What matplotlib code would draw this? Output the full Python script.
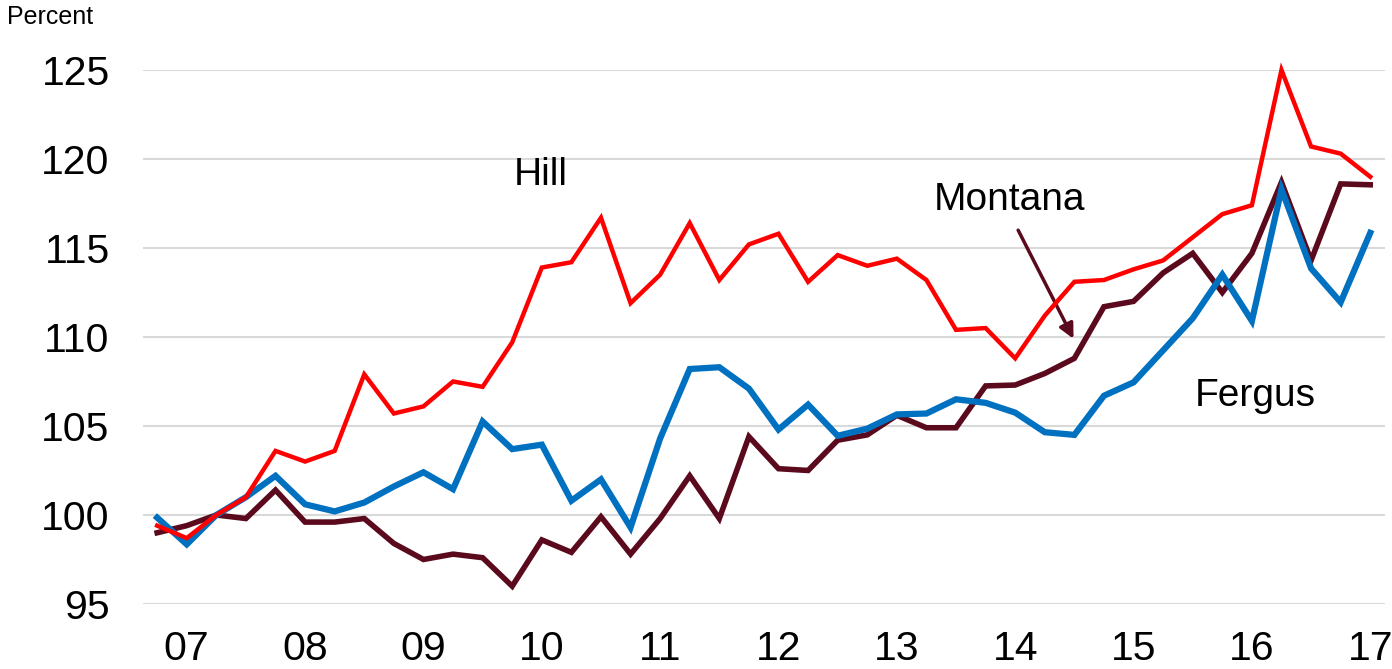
import matplotlib
matplotlib.use("Agg")
import matplotlib.pyplot as plt
import numpy as np

plt.rcParams['font.family'] = ['Liberation Sans', 'DejaVu Sans']

year_labels = ["07", "08", "09", "10", "11", "12", "13", "14", "15", "16", "17"]

hill = [99.4, 98.7, 100.0, 101.0, 103.6, 103.0, 103.6, 107.9, 105.7, 106.1, 107.5, 107.2,
        109.7, 113.9, 114.2, 116.7, 111.9, 113.5, 116.4, 113.2, 115.2, 115.8, 113.1, 114.6,
        114.0, 114.4, 113.2, 110.4, 110.5, 108.8, 111.2, 113.1, 113.2, 113.8, 114.3, 115.6,
        116.9, 117.4, 125.0, 120.7, 120.3, 119.0]

montana = [99.0, 99.4, 100.0, 99.8, 101.4, 99.6, 99.6, 99.8, 98.4, 97.5, 97.8, 97.6,
           96.0, 98.6, 97.9, 99.9, 97.8, 99.8, 102.2, 99.8, 104.4, 102.6, 102.5, 104.2,
           104.5, 105.6, 104.9, 104.9, 107.25, 107.3, 107.95, 108.8, 111.7, 112.0, 113.6, 114.7,
           112.5, 114.7, 118.7, 114.3, 118.6, 118.55]

fergus = [99.85, 98.35, 100.0, 101.0, 102.2, 100.6, 100.2, 100.7, 101.6, 102.4, 101.45, 105.25,
          103.7, 103.95, 100.8, 102.0, 99.3, 104.3, 108.2, 108.3, 107.1, 104.8, 106.2, 104.45,
          104.85, 105.65, 105.7, 106.5, 106.3, 105.75, 104.65, 104.5, 106.7, 107.45, 109.25, 111.05,
          113.5, 110.9, 118.3, 113.85, 111.95, 115.85]

x = np.arange(len(hill))

fig = plt.figure(figsize=(13.92, 6.69), dpi=100)
ax = fig.add_axes([0.1027, 0.0972, 0.8923, 0.7982])

ax.plot(x, montana, color='#5A0A1C', lw=4.0, solid_joinstyle='miter', zorder=3, clip_on=False)
ax.plot(x, fergus, color='#0070C0', lw=4.5, solid_joinstyle='miter', zorder=4, clip_on=False)
ax.plot(x, hill, color='#FF0000', lw=3.2, solid_joinstyle='miter', zorder=5, clip_on=False)

ax.set_xlim(-0.48, 41.5)
ax.set_ylim(95, 125)
ax.set_yticks([95, 100, 105, 110, 115, 120, 125])
ax.set_xticks(np.arange(1, len(hill), 4))
ax.set_xticklabels(year_labels)
ax.grid(axis='y', color='#D9D9D9', lw=1.5, zorder=0)
ax.set_axisbelow(True)
for s in ax.spines.values():
    s.set_visible(False)
ax.tick_params(axis='both', length=0, labelsize=29.5)
ax.tick_params(axis='x', pad=19)
ax.tick_params(axis='y', pad=24)

ax.text(12.95, 119.1, "Hill", fontsize=28, ha='center', va='center')
ax.text(28.8, 117.7, "Montana", fontsize=28, ha='center', va='center')
ax.text(37.1, 106.7, "Fergus", fontsize=28, ha='center', va='center')

ax.annotate("", xy=(30.97, 109.9), xytext=(29.1, 116.0),
            arrowprops=dict(arrowstyle='-|>', color='#5A0A1C', lw=2.5,
                            mutation_scale=22, shrinkA=0, shrinkB=0))

fig.text(0.005, 0.974, "Percent", fontsize=18, ha='left', va='center')

fig.savefig("out.png", dpi=100)
